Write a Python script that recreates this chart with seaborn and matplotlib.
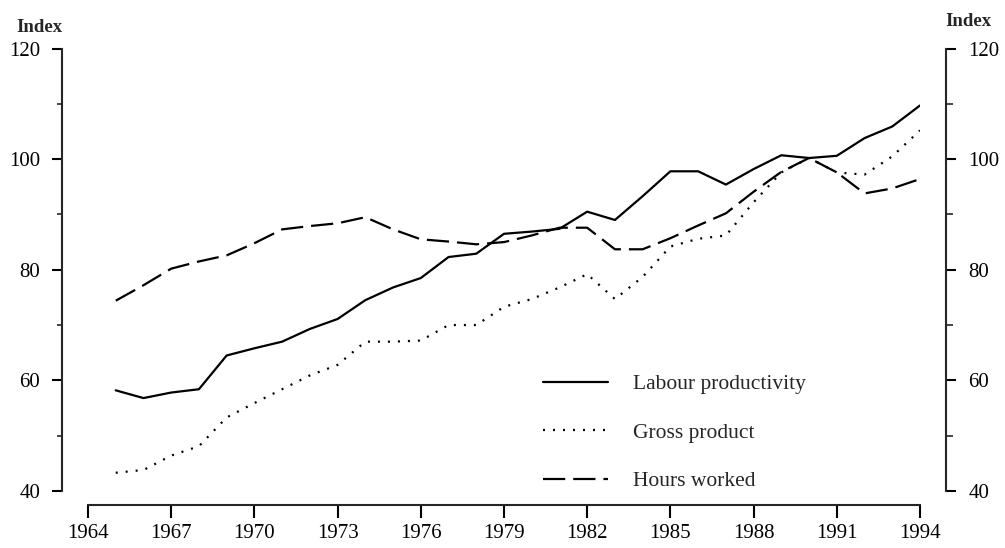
import numpy as np
import pandas as pd
import matplotlib
matplotlib.use("Agg")
import matplotlib.pyplot as plt
from matplotlib.ticker import MultipleLocator
import seaborn as sns

# data (index, 1990 = 100)
years = list(range(1965, 1995))
labour_productivity = [58.2, 56.8, 57.8, 58.4, 64.5, 65.8, 67.0, 69.3, 71.1, 74.5,
                       76.8, 78.5, 82.3, 82.9, 86.5, 86.9, 87.4, 90.5, 89.0, 93.3,
                       97.8, 97.8, 95.4, 98.2, 100.7, 100.2, 100.6, 103.8, 105.9, 109.7]
gross_product = [43.3, 43.8, 46.4, 48.1, 53.3, 55.9, 58.4, 60.9, 62.8, 67.0,
                 67.0, 67.2, 70.0, 70.0, 73.3, 74.7, 76.8, 79.2, 74.7, 78.7,
                 84.2, 85.6, 86.2, 92.2, 97.6, 100.2, 97.6, 97.2, 100.5, 105.2]
hours_worked = [74.4, 77.2, 80.2, 81.5, 82.6, 84.8, 87.3, 87.9, 88.4, 89.5,
                87.3, 85.5, 85.1, 84.6, 85.0, 86.2, 87.6, 87.6, 83.7, 83.7,
                85.7, 88.0, 90.2, 94.1, 97.7, 100.2, 97.6, 93.8, 94.7, 96.4]
series_names = ["Labour productivity", "Gross product", "Hours worked"]
x_ticks = list(range(1964, 1995, 3))
y_ticks = [40, 60, 80, 100, 120]

df = pd.DataFrame({
    "Year": years * 3,
    "Index": labour_productivity + gross_product + hours_worked,
    "Series": [s for s in series_names for _ in years],
})

sns.set_theme(style="ticks")
plt.rcParams["font.family"] = ["Liberation Serif", "DejaVu Serif"]
plt.rcParams["axes.linewidth"] = 1.5

fig = plt.figure(figsize=(10.05, 5.48), dpi=100)
ax = fig.add_axes([88 / 1005, 1 - 491 / 548, 832 / 1005, 442.5 / 548])

sns.lineplot(data=df, x="Year", y="Index", style="Series", style_order=series_names,
             dashes={"Labour productivity": "", "Gross product": (0.9, 3.6),
                     "Hours worked": (10, 3.6)},
             color="black", lw=1.6, legend=False, ax=ax)

ax.set_xlim(1964, 1994)
ax.set_ylim(40, 120)
ax.set_xticks(x_ticks)
ax.set_yticks(y_ticks)
ax.yaxis.set_minor_locator(MultipleLocator(10))
ax.set_xlabel("")
ax.set_ylabel("")

ax.spines["top"].set_visible(False)
ax.spines["right"].set_visible(False)
ax.spines["left"].set_position(("outward", 18.4))
ax.spines["bottom"].set_position(("outward", 10))

ax.tick_params(axis="x", which="major", length=9.5, width=1.5, pad=4,
               labelsize=15, colors="black")
ax.tick_params(axis="y", which="major", length=7.5, width=1.5, pad=8.5,
               labelsize=15, colors="black")
ax.tick_params(axis="y", which="minor", length=3.5, width=1.2)

ax2 = ax.twinx()
ax2.set_ylim(40, 120)
ax2.set_yticks(y_ticks)
ax2.yaxis.set_minor_locator(MultipleLocator(10))
for side in ["top", "left", "bottom"]:
    ax2.spines[side].set_visible(False)
ax2.spines["right"].set_position(("outward", 18.4))
ax2.tick_params(axis="y", which="major", length=7.5, width=1.5, pad=9,
                labelsize=15, colors="black")
ax2.tick_params(axis="y", which="minor", length=5, width=1.2)

leg = ax.legend(ax.lines[:3], series_names, loc="upper left",
                bbox_to_anchor=(543 / 1005, 1 - 374 / 548),
                bbox_transform=fig.transFigure, frameon=False, fontsize=15.5,
                handlelength=3.0, handletextpad=1.2, labelspacing=1.33,
                borderpad=0, borderaxespad=0)

fig.text(62 / 1005, 1 - 27 / 548, "Index", ha="right", va="center",
         fontsize=13.5, fontweight="bold")
fig.text(945 / 1005, 1 - 22 / 548, "Index", ha="left", va="center",
         fontsize=13.5, fontweight="bold")

fig.savefig("out.png", dpi=100, facecolor="white")
